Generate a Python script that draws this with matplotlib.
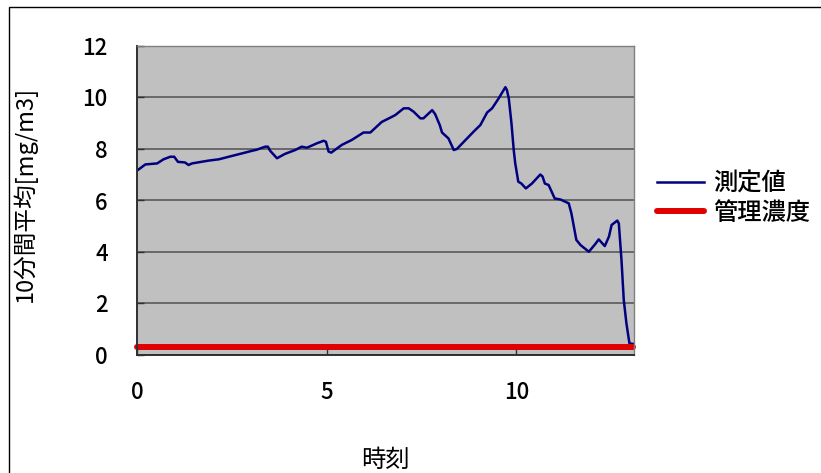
import matplotlib
matplotlib.use("Agg")
import matplotlib.pyplot as plt
from matplotlib.patches import Rectangle

plt.rcParams['font.family'] = ['Noto Sans CJK JP', 'DejaVu Sans']
plt.rcParams['font.weight'] = 500

# 10-minute moving average of measured concentration
time_h = [0.00, 0.22, 0.53, 0.70, 0.88, 0.98, 1.08, 1.26, 1.36, 1.45,
          1.89, 2.16, 2.42, 2.77, 3.03, 3.15, 3.38, 3.45, 3.51, 3.69,
          3.90, 4.17, 4.34, 4.48, 4.74, 4.92, 4.98, 5.05, 5.12, 5.40,
          5.66, 5.97, 6.15, 6.45, 6.68, 6.81, 7.03, 7.16, 7.29, 7.47,
          7.55, 7.78, 7.86, 7.98, 8.04, 8.21, 8.35, 8.43, 8.87, 9.05,
          9.23, 9.36, 9.53, 9.71, 9.75, 9.80, 9.87, 9.93, 9.97, 10.05,
          10.13, 10.25, 10.41, 10.63, 10.69, 10.75, 10.85, 11.01, 11.16, 11.38,
          11.45, 11.58, 11.69, 11.91, 12.08, 12.17, 12.33, 12.44, 12.51, 12.66,
          12.70, 12.77, 12.83, 12.90, 12.98, 13.08]
measured = [7.16, 7.40, 7.44, 7.60, 7.70, 7.70, 7.50, 7.48, 7.38, 7.44,
            7.55, 7.60, 7.70, 7.83, 7.93, 7.97, 8.09, 8.09, 7.93, 7.64,
            7.81, 7.96, 8.09, 8.05, 8.22, 8.32, 8.28, 7.90, 7.86, 8.16,
            8.35, 8.64, 8.64, 9.05, 9.22, 9.32, 9.58, 9.58, 9.45, 9.19,
            9.19, 9.51, 9.35, 8.93, 8.64, 8.41, 7.96, 8.00, 8.67, 8.93,
            9.42, 9.58, 9.96, 10.40, 10.29, 9.96, 9.00, 7.96, 7.44, 6.73,
            6.66, 6.47, 6.66, 7.01, 6.93, 6.66, 6.60, 6.08, 6.04, 5.89,
            5.50, 4.47, 4.27, 4.01, 4.31, 4.49, 4.23, 4.60, 5.05, 5.22,
            5.11, 3.69, 2.14, 1.23, 0.45, 0.43]

# administrative control level
limit_time = [0.0, 13.08]
limit_value = [0.3, 0.3]

series_labels = ['測定値', '管理濃度']
x_ticks = [0, 5, 10]
y_ticks = [0, 2, 4, 6, 8, 10, 12]

W, H = 821, 473
fig = plt.figure(figsize=(W / 100, H / 100), dpi=100)
fig.patch.set_facecolor('white')

# outer chart frame
fig.patches.append(Rectangle((9 / W, -0.1), 1.2, 1 - 7 / H + 0.1,
                             transform=fig.transFigure, fill=False,
                             edgecolor='black', linewidth=1.0))

ax = fig.add_axes([137 / W, 1 - 355 / H, 497 / W, 309 / H])
ax.set_facecolor('#C0C0C0')

ax.plot(time_h, measured, color='#000080', lw=1.8, label=series_labels[0],
        solid_joinstyle='round')
ax.plot(limit_time, limit_value, color='#E00000', lw=4.3,
        solid_capstyle='round', label=series_labels[1], clip_on=False)

ax.set_xlim(0, 13.1)
ax.set_ylim(0, 12)
ax.set_xticks(x_ticks)
ax.set_yticks(y_ticks)
ax.yaxis.grid(True, color='#505050', lw=1.1)
ax.set_axisbelow(True)

for s in ['top', 'right']:
    ax.spines[s].set_color('#808080')
    ax.spines[s].set_linewidth(1.0)
for s in ['left', 'bottom']:
    ax.spines[s].set_color('#303030')
    ax.spines[s].set_linewidth(1.4)

ax.tick_params(axis='both', direction='in', length=5, width=1.0,
               color='#303030', labelsize=16)
ax.tick_params(axis='y', pad=21)
ax.tick_params(axis='x', pad=19)

ax.set_xlabel('時刻', fontsize=17.5, labelpad=31)
ax.set_ylabel('10分間平均[mg/m3]', fontsize=17)
ax.yaxis.set_label_coords(-0.201, 0.52)

leg = fig.legend(loc='center left', bbox_to_anchor=(657 / W, 1 - 198 / H),
                 frameon=False, fontsize=17.5, handlelength=1.95,
                 handletextpad=0.35, labelspacing=0.15, borderpad=0,
                 borderaxespad=0)

fig.savefig('out.png', dpi=100, facecolor='white')
